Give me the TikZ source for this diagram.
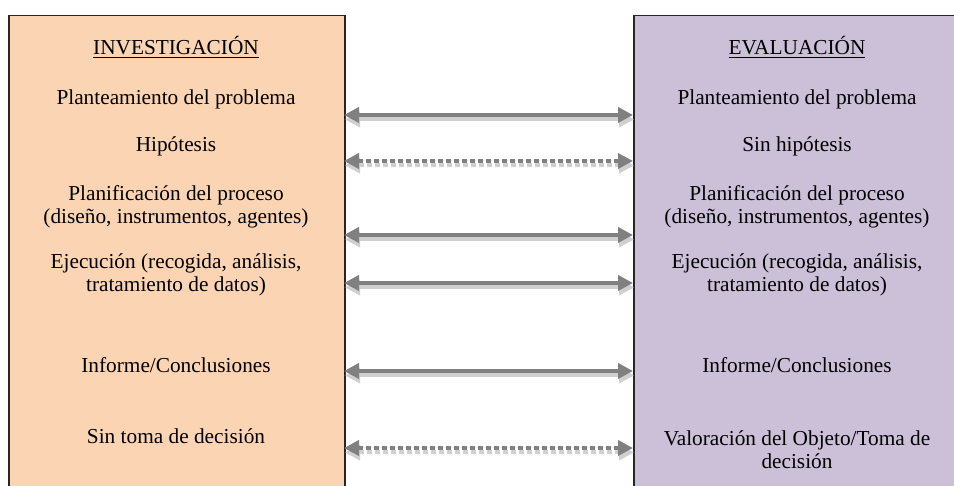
\documentclass[tikz,border=0pt]{standalone}
\usepackage{fontspec}
\setmainfont{Liberation Serif}
\usetikzlibrary{arrows.meta}
\definecolor{peach}{HTML}{FBD4B4}
\definecolor{lavender}{HTML}{CCC0D9}
\definecolor{arrowgray}{HTML}{808080}
\definecolor{shadowgray}{HTML}{D0D0D0}
\tikzset{
  panel/.style={draw=black!85, line width=1.5pt, inner sep=0pt, anchor=north west},
  item/.style={anchor=base, align=center, inner sep=0pt,
    font=\fontsize{21.3}{23}\selectfont},
  link/.style={line width=4pt, draw=arrowgray, fill=arrowgray,
    {Triangle[length=15pt,width=15pt]}-{Triangle[length=15pt,width=15pt]}},
  linkshadow/.style={link, draw=shadowgray, fill=shadowgray},
  dotlink/.style={dash pattern=on 4.5pt off 3.5pt},
  drop/.style={shift={(1,4.5)}},
}
\begin{document}
\begin{tikzpicture}[x=1pt,y=-1pt]
\useasboundingbox (0,0) rectangle (954,486);
\begin{scope}
\clip (0,0) rectangle (954,486);
% the two panels
\node[panel, fill=peach, minimum width=336pt, minimum height=500pt] (inv) at (8,15) {};
\node[panel, fill=lavender, minimum width=360pt, minimum height=500pt] (eva) at (633,15) {};
\end{scope}

% left column (two-line items are placed by the baseline of their last line)
\node[item] (l0) at (176,55) {\underline{INVESTIGACIÓN}};
\node[item] (l1) at (176,105) {Planteamiento del problema};
\node[item] (l2) at (176,152) {Hipótesis};
\node[item] (l3) at (176,224) {Planificación del proceso\\(diseño, instrumentos, agentes)};
\node[item] (l4) at (176,292) {Ejecución (recogida, análisis,\\tratamiento de datos)};
\node[item] (l5) at (176,373) {Informe/Conclusiones};
\node[item] (l6) at (176,443) {Sin toma de decisión};

% right column
\node[item] (r0) at (797,55) {\underline{EVALUACIÓN}};
\node[item] (r1) at (797,105) {Planteamiento del problema};
\node[item] (r2) at (797,152) {Sin hipótesis};
\node[item] (r3) at (797,224) {Planificación del proceso\\(diseño, instrumentos, agentes)};
\node[item] (r4) at (797,292) {Ejecución (recogida, análisis,\\tratamiento de datos)};
\node[item] (r5) at (797,373) {Informe/Conclusiones};
\node[item] (r6) at (797,468) {Valoración del Objeto/Toma de\\decisión};

% link end points on the panel edges
\foreach \i/\y in {1/115,2/161,3/235,4/283,5/371,6/448}{
  \coordinate (a\i) at (344,\y);
  \coordinate (b\i) at (633,\y);
}

% drop shadows under the links
\foreach \i in {1,3,4,5}{ \draw[linkshadow] ([drop]a\i) -- ([drop]b\i); }
\foreach \i in {2,6}{ \draw[linkshadow, dotlink] ([drop]a\i) -- ([drop]b\i); }
% links
\foreach \i in {1,3,4,5}{ \draw[link] (a\i) -- (b\i); }
\foreach \i in {2,6}{ \draw[link, dotlink] (a\i) -- (b\i); }
\end{tikzpicture}
\end{document}
